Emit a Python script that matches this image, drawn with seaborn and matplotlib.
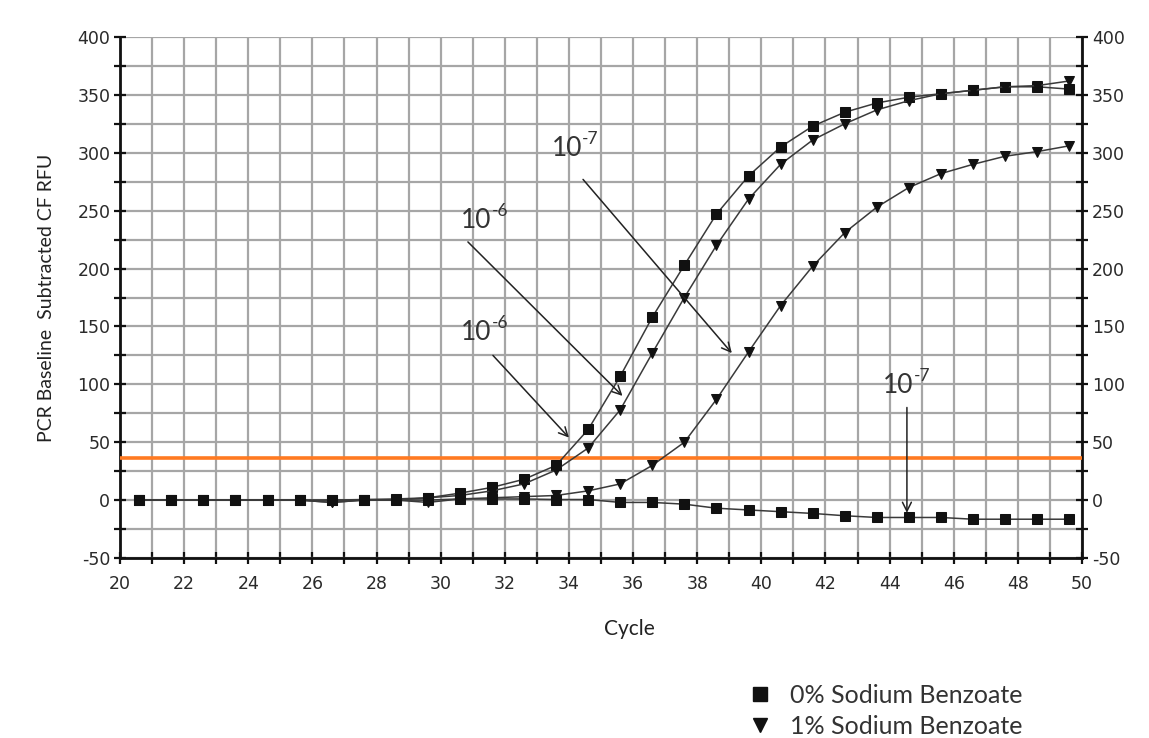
import numpy as np
import pandas as pd
import matplotlib
matplotlib.use("Agg")
import matplotlib.pyplot as plt
import matplotlib.transforms as mtransforms
from matplotlib.lines import Line2D
from matplotlib.ticker import MultipleLocator
import seaborn as sns

# ---------------- data ----------------
cycles = [20.6 + i for i in range(30)]

sb0_1e6 = [0, 0, 0, 0, 0, 0, 0, 0.5, 1, 2, 6, 11, 18, 30, 61, 107, 158, 203,
           247, 280, 305, 323, 335, 343, 348, 351, 354, 357, 357, 355]
sb1_1e6 = [0, 0, 0, 0, 0, 0, -2, 0, 0, 2, 4, 8, 14, 26, 45, 78, 127, 175,
           220, 260, 290, 311, 325, 337, 345, 351, 354, 357, 358, 362]
sb1_1e7 = [0, 0, 0, 0, 0, 0, -2, 0, 0, -2, 1, 2, 3, 4, 8, 14, 30, 50,
           87, 128, 168, 202, 231, 253, 270, 282, 290, 297, 301, 306]
sb0_1e7 = [0, 0, 0, 0, 0, 0, 0, 0, 0, 0, 1, 1, 1, 0.5, 0.5, -2, -2, -3.5,
           -7, -8.5, -10, -11.5, -13.5, -15, -15, -15, -16.5, -16.5, -16.5, -16.5]

threshold = 36

legend_labels = ["0% Sodium Benzoate", "1% Sodium Benzoate"]
x_label = "Cycle"
y_label = "PCR Baseline  Subtracted CF RFU"

# annotations: (base, exponent, text_xy, arrow_start, arrow_end) in data coords
annotations = [
    ("10", "-6", (31.47, 243), (30.85, 223), (35.67, 90)),
    ("10", "-6", (31.47, 146), (31.63, 125), (34.0, 54)),
    ("10", "-7", (34.28, 305), (34.44, 277), (39.08, 127)),
    ("10", "-7", (44.63, 100), (44.54, 80), (44.54, -11)),
]

# ---------------- style ----------------
sns.set_style("white")
plt.rcParams["font.family"] = ["DejaVu Sans"]
plt.rcParams["axes.unicode_minus"] = False

fig = plt.figure(figsize=(11.49, 7.38), dpi=100)
ax = fig.add_axes([120 / 1149, 1 - 558 / 738, 962 / 1149, 521 / 738])

series = [
    (sb0_1e6, "s", 6.5),
    (sb1_1e6, "v", 7.5),
    (sb1_1e7, "v", 7.5),
    (sb0_1e7, "s", 6.5),
]
for vals, mk, ms in series:
    df = pd.DataFrame({"cycle": cycles, "rfu": vals})
    sns.lineplot(data=df, x="cycle", y="rfu", ax=ax, color="#3a3a3a", lw=1.1,
                 marker=mk, markersize=ms, markerfacecolor="#111111",
                 markeredgecolor="#111111", zorder=4)

ax.axhline(threshold, color="#ff7a21", lw=2.6, zorder=3)

ax.set_xlim(20, 50)
ax.set_ylim(-50, 400)
ax.xaxis.set_major_locator(MultipleLocator(2))
ax.xaxis.set_minor_locator(MultipleLocator(1))
ax.yaxis.set_major_locator(MultipleLocator(50))
ax.yaxis.set_minor_locator(MultipleLocator(25))
ax.grid(True, which="both", color="#a6a6a6", lw=1.6, zorder=0)
ax.set_axisbelow(True)

for s in ["left", "right", "bottom"]:
    ax.spines[s].set_visible(True)
    ax.spines[s].set_color("#111111")
    ax.spines[s].set_linewidth(2)
ax.spines["top"].set_visible(False)

ax.tick_params(axis="both", which="both", direction="inout", color="#111111",
               width=1.6, labelsize=12.5, labelcolor="#2a2a2a", length=8)
ax.tick_params(axis="y", which="both", left=True, right=True,
               labelleft=True, labelright=True, pad=3)
ax.tick_params(axis="x", which="both", bottom=True, top=False, pad=8)

ax.set_xlabel(x_label, family="Lato", fontsize=15, color="#222222", va="center")
ax.xaxis.set_label_coords((629 - 120) / 962, (558 - 629) / 521)
ax.set_ylabel(y_label, family="Lato", fontsize=14, color="#222222", va="center")
ax.yaxis.set_label_coords((47 - 120) / 962, 0.5)

for base, expo, txy, a0, a1 in annotations:
    ax.annotate("", xy=a1, xytext=a0,
                arrowprops=dict(arrowstyle="->", color="#222222", lw=1.1,
                                mutation_scale=16, shrinkA=0, shrinkB=0),
                zorder=6)
    tr_base = mtransforms.offset_copy(ax.transData, fig=fig, x=4, y=-9, units="dots")
    ax.text(txy[0], txy[1], base, family="Lato", fontsize=19, color="#333333",
            ha="right", va="baseline", transform=tr_base, zorder=6)
    tr_exp = mtransforms.offset_copy(ax.transData, fig=fig, x=4, y=3, units="dots")
    ax.text(txy[0], txy[1], expo, family="Lato", fontsize=12.5, color="#333333",
            ha="left", va="baseline", transform=tr_exp, zorder=6)

handles = [
    Line2D([], [], ls="none", marker="s", markersize=9.5, color="#111111"),
    Line2D([], [], ls="none", marker="v", markersize=10.5, color="#111111"),
]
fig.legend(handles, legend_labels, loc="upper left",
           bbox_to_anchor=(737 / 1149, 1 - 674 / 738), frameon=False,
           prop={"family": "Lato", "size": 18}, handlelength=1.0,
           handletextpad=0.7, labelspacing=0.3, borderaxespad=0,
           labelcolor="#333333")

fig.savefig("out.png", dpi=100, facecolor="white")
